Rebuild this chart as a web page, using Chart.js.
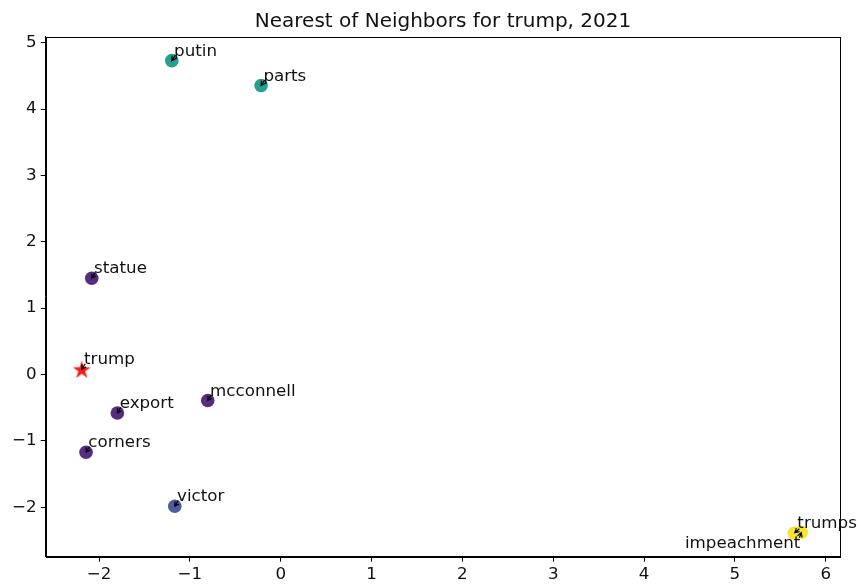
<!DOCTYPE html>
<html>
<head>
<meta charset="utf-8">
<script src="https://cdn.jsdelivr.net/npm/chart.js@4/dist/chart.umd.min.js"></script>
<style>
  html, body { margin: 0; padding: 0; background: #ffffff; }
  canvas { display: block; }
</style>
</head>
<body>
<canvas id="chart" width="857" height="584"></canvas>
<script>
// Neighbor words and their 2-D embedding coordinates
const words    = ['putin', 'parts', 'statue', 'export', 'mcconnell', 'corners', 'victor', 'trumps', 'impeachment'];
const xValues  = [-1.199, -0.216, -2.080, -1.798, -0.803, -2.143, -1.166, 5.654, 5.731];
const yValues  = [ 4.729,  4.354,  1.450, -0.579, -0.392, -1.171, -1.984, -2.391, -2.376];
const clusters = [2, 2, 0, 0, 0, 0, 1, 3, 3];

// The query word itself
const queryWords = ['trump'];
const queryX = [-2.190];
const queryY = [0.080];

const chartTitle = 'Nearest of Neighbors for trump, 2021';
const xTicks = [-2, -1, 0, 1, 2, 3, 4, 5, 6];
const yTicks = [-2, -1, 0, 1, 2, 3, 4, 5];

// Cluster colours (viridis-like)
const clusterColors = ['rgb(88,44,128)', 'rgb(78,92,158)', 'rgb(38,160,142)', 'rgb(248,228,48)'];

const FONT = '"DejaVu Sans", "Liberation Sans", sans-serif';
const TEXT_SIZE = 16.7;
const TITLE_SIZE = 20;

// Filled five-pointed star marker
function makeStar(outer, color) {
  const inner = outer * 0.382;
  const size = Math.ceil(outer * 2 + 2);
  const c = document.createElement('canvas');
  c.width = size; c.height = size;
  const g = c.getContext('2d');
  const cx = size / 2, cy = size / 2 + outer * 0.1;
  g.beginPath();
  for (let i = 0; i < 10; i++) {
    const r = i % 2 === 0 ? outer : inner;
    const a = -Math.PI / 2 + i * Math.PI / 5;
    const px = cx + r * Math.cos(a), py = cy + r * Math.sin(a);
    if (i === 0) g.moveTo(px, py); else g.lineTo(px, py);
  }
  g.closePath();
  g.fillStyle = color;
  g.fill();
  return c;
}
const starMarker = makeStar(9.5, 'rgb(255,25,25)');

// Label placement relative to each marker (pixels)
const labelStyle = {
  default: { dx: 2.3, dy: -4.8, align: 'left', tail: [3.5, -5.5], head: [0, 0] },
  impeachment: { dx: -1, dy: 15.5, align: 'right', tail: [-2, 5.5], head: [0, 0.5] },
  trumps: { dx: 3, dy: -5.5, align: 'left', tail: [5, -4.5], head: [0.5, -0.5] }
};

function drawArrow(ctx, x1, y1, x2, y2) {
  const ang = Math.atan2(y2 - y1, x2 - x1);
  const hl = 4.2, hw = 2.4;
  ctx.beginPath();
  ctx.moveTo(x1, y1);
  ctx.lineTo(x2, y2);
  const bx = x2 - hl * Math.cos(ang), by = y2 - hl * Math.sin(ang);
  ctx.moveTo(bx + hw * Math.sin(ang), by - hw * Math.cos(ang));
  ctx.lineTo(x2, y2);
  ctx.lineTo(bx - hw * Math.sin(ang), by + hw * Math.cos(ang));
  ctx.stroke();
}

const annotatePlugin = {
  id: 'annotateWords',
  afterDatasetsDraw(chart) {
    const ctx = chart.ctx;
    const xs = chart.scales.x, ys = chart.scales.y;
    const area = chart.chartArea;
    ctx.save();
    // frame on all four sides
    ctx.strokeStyle = '#000';
    ctx.lineWidth = 1;
    ctx.strokeRect(Math.round(area.left) + 0.5, Math.round(area.top) + 0.5,
                   Math.round(area.right - area.left) - 1, Math.round(area.bottom - area.top));

    ctx.font = TEXT_SIZE + 'px ' + FONT;
    ctx.fillStyle = '#111';
    ctx.strokeStyle = '#000';
    ctx.lineWidth = 1.2;
    const all = words.map((w, i) => [w, xValues[i], yValues[i]])
      .concat(queryWords.map((w, i) => [w, queryX[i], queryY[i]]));
    all.forEach(([w, x, y]) => {
      const px = xs.getPixelForValue(x), py = ys.getPixelForValue(y);
      const st = labelStyle[w] || labelStyle.default;
      ctx.textAlign = st.align;
      ctx.textBaseline = 'alphabetic';
      ctx.fillText(w, px + st.dx, py + st.dy);
      drawArrow(ctx, px + st.tail[0], py + st.tail[1], px + st.head[0], py + st.head[1]);
    });

    // title
    ctx.font = TITLE_SIZE + 'px ' + FONT;
    ctx.fillStyle = '#111';
    ctx.textAlign = 'center';
    ctx.fillText(chartTitle, (area.left + area.right) / 2, 26.5);
    ctx.restore();
  }
};

const fmt = v => (v < 0 ? '\u2212' + Math.abs(v) : String(v));

new Chart(document.getElementById('chart'), {
  type: 'scatter',
  data: {
    datasets: [
      {
        label: 'neighbors',
        data: words.map((w, i) => ({ x: xValues[i], y: yValues[i] })),
        backgroundColor: clusters.map(c => clusterColors[c]),
        borderWidth: 0,
        pointRadius: 6.8,
        pointHoverRadius: 6.8
      },
      {
        label: 'query',
        data: queryWords.map((w, i) => ({ x: queryX[i], y: queryY[i] })),
        pointStyle: starMarker,
        pointRadius: 9,
        pointHoverRadius: 9
      }
    ]
  },
  options: {
    responsive: false,
    animation: false,
    devicePixelRatio: 1,
    events: [],
    layout: { padding: { left: 0, right: 16.7, top: 36.7, bottom: 0 } },
    plugins: {
      legend: { display: false },
      title: { display: false },
      tooltip: { enabled: false }
    },
    scales: {
      x: {
        type: 'linear',
        min: -2.587,
        max: 6.16,
        afterFit: s => { s.height = 27.3; },
        afterBuildTicks: s => { s.ticks = xTicks.map(v => ({ value: v })); },
        grid: { display: true, drawOnChartArea: false, drawTicks: true, tickLength: 5, color: '#000', lineWidth: 1 },
        border: { display: true, color: '#000', width: 1 },
        ticks: { padding: 3, color: '#111', font: { family: FONT, size: TEXT_SIZE }, callback: fmt, maxRotation: 0 }
      },
      y: {
        type: 'linear',
        min: -2.745,
        max: 5.09,
        afterFit: s => { s.width = 45.7; },
        afterBuildTicks: s => { s.ticks = yTicks.map(v => ({ value: v })); },
        grid: { display: true, drawOnChartArea: false, drawTicks: true, tickLength: 5, color: '#000', lineWidth: 1 },
        border: { display: true, color: '#000', width: 1 },
        ticks: { padding: 4, color: '#111', font: { family: FONT, size: TEXT_SIZE }, callback: fmt }
      }
    }
  },
  plugins: [annotatePlugin]
});
</script>
</body>
</html>
